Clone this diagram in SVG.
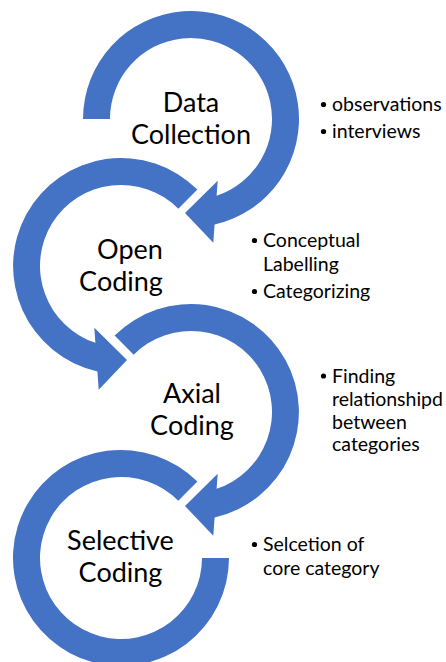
<svg xmlns="http://www.w3.org/2000/svg" width="446" height="662" viewBox="0 0 446 662">
  <style>
    .ring { fill: #4472C4; }
    .stage { font-family: Lato, "Liberation Sans", sans-serif; font-size: 27px; fill: #000; text-anchor: middle; }
    .item { font-family: Lato, "Liberation Sans", sans-serif; font-size: 19.5px; fill: #000; }
    .dot { fill: #000; }
  </style>
  <rect width="446" height="662" fill="#fff"/>

  <!-- Stage 1: clockwise ring from the left, arrow head at the lower left -->
  <g id="data-collection">
    <path class="ring" d="M 83 119 A 108 108 0 1 1 214.6 224.4 L 213.3 242.7 L 185 213 L 217.7 180.7 L 216.6 195.8 A 81 81 0 1 0 110 119 Z"/>
    <text class="stage" x="191" y="112">Data</text>
    <text class="stage" x="191" y="144">Collection</text>
  </g>

  <!-- Stage 2: counter-clockwise ring, arrow head at the lower right -->
  <g id="open-coding">
    <path class="ring" d="M 197.4 189.6 A 108 108 0 1 0 97.4 371.4 L 98.7 389.7 L 127 360 L 94.3 327.7 L 95.4 342.8 A 81 81 0 1 1 178.3 208.7 Z"/>
    <text class="stage" x="130" y="259">Open</text>
    <text class="stage" x="121" y="291">Coding</text>
  </g>

  <!-- Stage 3: clockwise ring from the upper left -->
  <g id="axial-coding">
    <path class="ring" d="M 114.6 335.6 A 108 108 0 1 1 214.6 517.4 L 213.3 535.7 L 185 506 L 217.7 473.7 L 216.6 488.8 A 81 81 0 1 0 133.7 354.7 Z"/>
    <text class="stage" x="192" y="403">Axial</text>
    <text class="stage" x="192" y="435">Coding</text>
  </g>

  <!-- Stage 4: open ring without a head, ending flat on the right -->
  <g id="selective-coding">
    <path class="ring" d="M 197.4 481.6 A 108 108 0 1 0 229 558 L 202 558 A 81 81 0 1 1 178.3 500.7 Z"/>
    <text class="stage" x="120.5" y="550">Selective</text>
    <text class="stage" x="120.5" y="582">Coding</text>
  </g>

  <!-- Bullet notes beside each stage -->
  <g id="notes-data-collection">
    <circle class="dot" cx="323.5" cy="104.5" r="2.6"/>
    <text class="item" x="332" y="111">observations</text>
    <circle class="dot" cx="323.5" cy="131.5" r="2.6"/>
    <text class="item" x="332" y="138">interviews</text>
  </g>
  <g id="notes-open-coding">
    <circle class="dot" cx="254.5" cy="240.5" r="2.6"/>
    <text class="item" x="263" y="247">Conceptual</text>
    <text class="item" x="263" y="271">Labelling</text>
    <circle class="dot" cx="254.5" cy="291.5" r="2.6"/>
    <text class="item" x="263" y="298">Categorizing</text>
  </g>
  <g id="notes-axial-coding">
    <circle class="dot" cx="323.5" cy="376" r="2.6"/>
    <text class="item" x="332" y="382.5">Finding</text>
    <text class="item" x="332" y="405.5">relationshipd</text>
    <text class="item" x="332" y="428.5">between</text>
    <text class="item" x="332" y="451">categories</text>
  </g>
  <g id="notes-selective-coding">
    <circle class="dot" cx="254.5" cy="544.5" r="2.6"/>
    <text class="item" x="263" y="551">Selcetion of</text>
    <text class="item" x="263" y="574.5">core category</text>
  </g>
</svg>
